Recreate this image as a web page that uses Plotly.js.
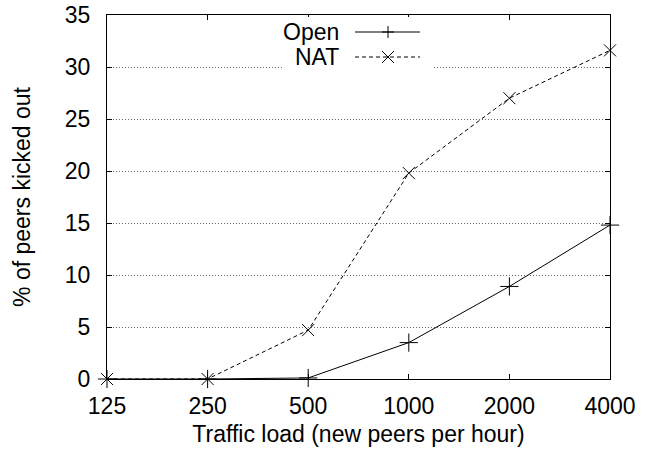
<!DOCTYPE html>
<html>
<head>
<meta charset="utf-8">
<script src="https://cdn.plot.ly/plotly-3.0.1.min.js"></script>
<style>html,body{margin:0;padding:0;background:#fff}#chart{width:660px;height:455px}</style>
</head>
<body>
<div id="chart"></div>
<script>
const categories = ["125", "250", "500", "1000", "2000", "4000"];
const openValues = [0, 0, 0.1, 3.5, 8.9, 14.8];
const natValues = [0, 0, 4.7, 19.8, 27.0, 31.6];
const seriesNames = ["Open", "NAT"];
const yTicks = [0, 5, 10, 15, 20, 25, 30, 35];

const FONT = "Liberation Sans, Arial, Helvetica, sans-serif";
const FS = 23;
const L = 107, R = 610, T = 15, B = 379;
const W = R - L, H = B - T;
const px = x => (x - L) / W;
const py = y => (B - y) / H;

const traces = [
  {x: categories, y: openValues, name: seriesNames[0], type: "scatter", mode: "lines+markers",
   line: {color: "#000", width: 1},
   marker: {symbol: "cross-thin-open", size: 13, color: "#000", line: {color: "#000", width: 1}},
   cliponaxis: false, showlegend: false},
  {x: categories, y: natValues, name: seriesNames[1], type: "scatter", mode: "lines+markers",
   line: {color: "#000", width: 1, dash: "4px,3px"},
   marker: {symbol: "x-thin-open", size: 12, color: "#000", line: {color: "#000", width: 1}},
   cliponaxis: false, showlegend: false}
];

// custom gnuplot-style key (text, then sample)
const keyRows = [{name: seriesNames[0], y: 32, dash: "solid", mk: "plus"},
                 {name: seriesNames[1], y: 57, dash: "4px,3px", mk: "x"}];
const shapes = [{type: "rect", xref: "paper", yref: "paper", x0: px(282), x1: px(433), y0: py(70), y1: py(17),
                 fillcolor: "#fff", line: {width: 0}, layer: "above"}];
const annotations = [];
keyRows.forEach(r => {
  annotations.push({xref: "paper", yref: "paper", x: px(341), y: py(r.y), xanchor: "right", yanchor: "middle",
    text: r.name, showarrow: false, font: {family: FONT, size: FS, color: "#000"}});
  shapes.push({type: "line", xref: "paper", yref: "paper", x0: px(355), x1: px(420), y0: py(r.y), y1: py(r.y),
    line: {color: "#000", width: 1, dash: r.dash}, layer: "above"});
  const cx = 388, cy = r.y, s = 6;
  let path;
  if (r.mk === "plus") {
    path = `M${px(cx - s)},${py(cy)} L${px(cx + s)},${py(cy)} M${px(cx)},${py(cy - s)} L${px(cx)},${py(cy + s)}`;
  } else {
    path = `M${px(cx - s)},${py(cy - s)} L${px(cx + s)},${py(cy + s)} M${px(cx - s)},${py(cy + s)} L${px(cx + s)},${py(cy - s)}`;
  }
  shapes.push({type: "path", xref: "paper", yref: "paper", path: path, line: {color: "#000", width: 1}, layer: "above"});
});

const layout = {
  width: 660, height: 455,
  margin: {l: L, r: 660 - R, t: T, b: 455 - B, pad: 0},
  paper_bgcolor: "#fff", plot_bgcolor: "#fff",
  font: {family: FONT, size: FS, color: "#000"},
  showlegend: false,
  xaxis: {
    type: "category", range: [0, 5], categoryorder: "array", categoryarray: categories,
    showline: true, linecolor: "#000", linewidth: 1, mirror: "ticks",
    ticks: "inside", ticklen: 5, tickcolor: "#000", tickwidth: 1,
    showgrid: false, zeroline: false, ticklabelstandoff: 6,
    tickfont: {family: FONT, size: FS, color: "#000"},
    title: {text: "Traffic load (new peers per hour)", font: {family: FONT, size: FS, color: "#000"}, standoff: 8}
  },
  yaxis: {
    range: [0, 35], tickvals: yTicks, ticktext: yTicks.map(String),
    showline: true, linecolor: "#000", linewidth: 1, mirror: "ticks",
    ticks: "inside", ticklen: 5, tickcolor: "#000", tickwidth: 1,
    showgrid: true, gridcolor: "#666", gridwidth: 1, griddash: "1px,2px",
    zeroline: false, ticklabelstandoff: 11,
    tickfont: {family: FONT, size: FS, color: "#000"},
    title: {text: "% of peers kicked out", font: {family: FONT, size: FS, color: "#000"}, standoff: 27}
  },
  shapes: shapes,
  annotations: annotations
};

Plotly.newPlot("chart", traces, layout, {staticPlot: true, displayModeBar: false});
</script>
</body>
</html>
